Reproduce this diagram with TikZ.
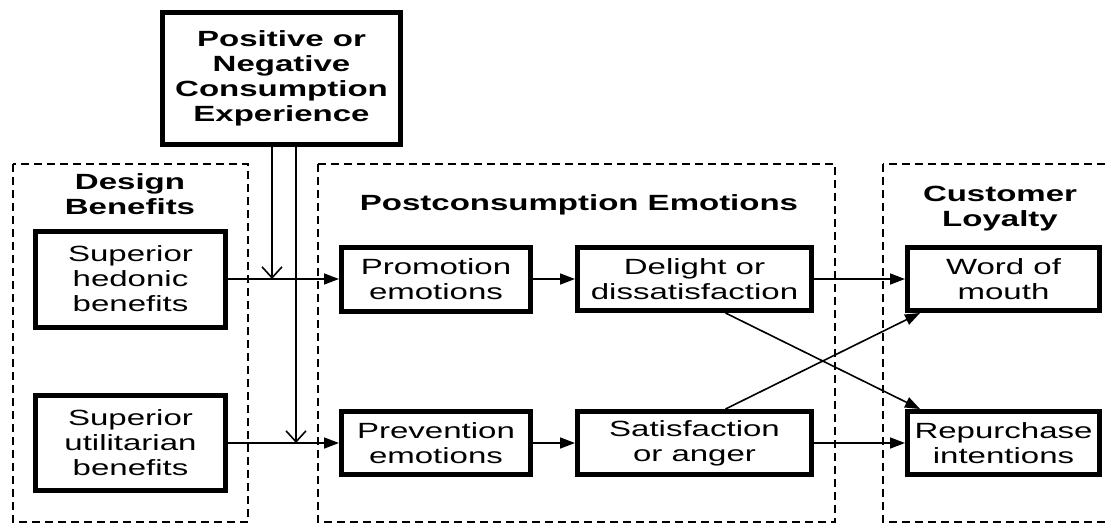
\documentclass[tikz,border=0pt]{standalone}
\usepackage{fontspec}
\setmainfont[FakeStretch=1.5]{Liberation Sans}
\usetikzlibrary{arrows.meta}
\begin{document}
\begin{tikzpicture}[x=1pt,y=-1pt,
  every node/.style={font=\fontsize{22}{25}\selectfont, align=center, inner sep=0pt},
  box/.style={draw, line width=5pt, rectangle},
  group/.style={draw, line width=2.2pt, dash pattern=on 8pt off 5pt},
  title/.style={font=\fontsize{22}{25}\selectfont\bfseries},
  link/.style={line width=1.6pt, -{Triangle[length=15pt,width=11pt]}},
  feed/.style={line width=1.6pt, -{Straight Barb[length=11pt,width=20pt]}}]
\useasboundingbox (0,0) rectangle (1110,524);
\clip (0,0) rectangle (1110,524);
\fill[white] (0,0) rectangle (1110,524);
% groups
\draw[group] (13,164) rectangle (248,522);
\draw[group] (318,164) rectangle (835,522);
\draw[group] (883,164) rectangle (1130,522);
% titles
\node[title] (tdesign) at (130,194) {Design\\Benefits};
\node[title] (tpost) at (579,205) {Postconsumption Emotions};
\node[title] (tloyal) at (1000,209) {Customer\\Loyalty};
% boxes
\node[box, minimum width=238pt, minimum height=132pt, title] (top) at (281.5,78.5) {Positive or\\Negative\\Consumption\\Experience};
\node[box, minimum width=190pt, minimum height=96pt] (hedonic) at (130.5,279) {Superior\\hedonic\\benefits};
\node[box, minimum width=190pt, minimum height=95pt] (util) at (130.5,443) {Superior\\utilitarian\\benefits};
\node[box, minimum width=189pt, minimum height=64pt] (promo) at (436,279) {Promotion\\emotions};
\node[box, minimum width=189pt, minimum height=63pt] (prev) at (436,443) {Prevention\\emotions};
\node[box, minimum width=234pt, minimum height=63pt] (delight) at (694.5,279) {Delight or\\dissatisfaction};
\node[box, minimum width=234pt, minimum height=63pt] (satis) at (694.5,443) {Satisfaction\\or anger};
\node[box, minimum width=192pt, minimum height=63pt] (word) at (1003.5,279) {Word of\\mouth};
\node[box, minimum width=192pt, minimum height=63pt] (repur) at (1003.5,443) {Repurchase\\intentions};
% feed coordinates
\coordinate (f1) at (272,279);
\coordinate (f2) at (296,443);
% connectors
\draw[link] (hedonic.east) -- (promo.west);
\draw[link] (util.east) -- (prev.west);
\draw[feed] (top.south -| f1) -- (f1);
\draw[feed] (top.south -| f2) -- (f2);
\draw[link] (promo.east) -- (delight.west);
\draw[link] (prev.east) -- (satis.west);
\draw[link] (delight.east) -- (word.west);
\draw[link] (satis.east) -- (repur.west);
\draw[link] ([xshift=31pt]delight.south) -- ([xshift=-83.5pt]repur.north);
\draw[link] ([xshift=31pt]satis.north) -- ([xshift=-83.5pt]word.south);
\end{tikzpicture}
\end{document}
